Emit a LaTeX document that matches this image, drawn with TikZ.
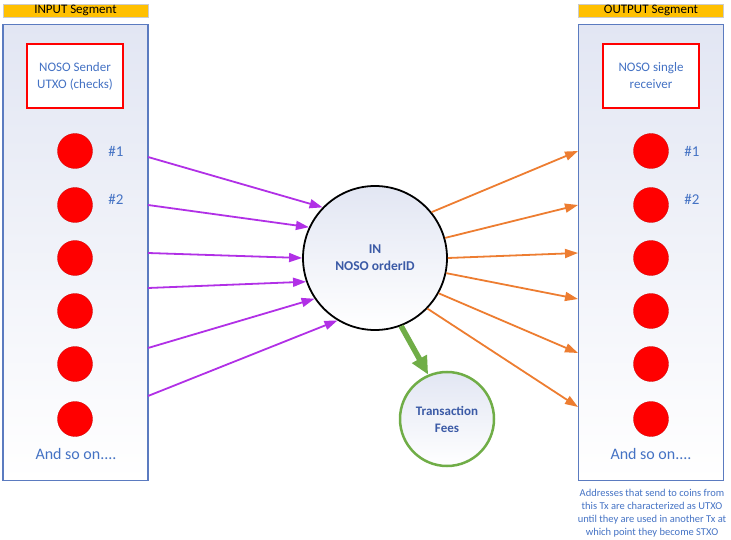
\documentclass[tikz,border=0pt]{standalone}
\usepackage{fontspec}
\setmainfont{Carlito}
\usetikzlibrary{arrows.meta}
\definecolor{segyellow}{HTML}{FFC000}
\definecolor{panelblue}{HTML}{5B7BC0}
\definecolor{panelfill}{HTML}{E2E6F3}
\definecolor{textblue}{HTML}{4472C4}
\definecolor{darkblue}{HTML}{3B5AA6}
\definecolor{arrowpurple}{HTML}{B130E6}
\definecolor{arroworange}{HTML}{ED7D31}
\definecolor{feesgreen}{HTML}{70AD47}
\definecolor{coinred}{HTML}{FF0000}

\tikzset{
  panel/.style={draw=panelblue, line width=1.8pt, top color=panelfill, bottom color=white, minimum width=145pt, minimum height=456pt, inner sep=0pt},
  segtitle/.style={draw=black!20, fill=segyellow, minimum width=145pt, minimum height=13pt, inner sep=0pt, font=\fontsize{13}{13}\selectfont},
  ownerbox/.style={rectangle, draw=coinred, line width=1.2pt, fill=white, minimum width=96pt, minimum height=64pt, align=center, text=textblue, font=\fontsize{13}{17}\selectfont},
  coin/.style={circle, fill=coinred, draw=coinred!80!black, line width=0.3pt, minimum size=35pt, inner sep=0pt},
  numlabel/.style={text=textblue, font=\fontsize{15}{15}\selectfont},
  moretext/.style={text=textblue, font=\fontsize{16}{16}\selectfont},
  inflow/.style={draw=arrowpurple, line width=1.8pt, -{Triangle[length=13pt,width=9pt]}},
  outflow/.style={draw=arroworange, line width=1.8pt, -{Triangle[length=13pt,width=9pt]}},
}

\begin{document}
\begin{tikzpicture}[x=1pt, y=-1pt]
  \useasboundingbox (0,0) rectangle (731,540);

  \node[panel] (inpanel) at (75.5,252.5) {};
  \node[panel] (outpanel) at (651,252.5) {};
  \node[segtitle] (intitle) at (75.5,10.5) {INPUT Segment};
  \node[segtitle] (outtitle) at (651,10.5) {OUTPUT Segment};
  \node[ownerbox] (sender) at (75,76) {NOSO Sender\\UTXO (checks)};
  \node[ownerbox] (receiver) at (651,76) {NOSO single\\receiver};

  \foreach \y [count=\i] in {151,205,258,311,364,419}{
    \node[coin] (incoin\i) at (75,\y) {};
    \node[coin] (outcoin\i) at (651,\y) {};
  }
  \node[numlabel] (inone) at (116,151) {\#1};
  \node[numlabel] (intwo) at (116,199) {\#2};
  \node[numlabel] (outone) at (692,151) {\#1};
  \node[numlabel] (outtwo) at (692,199) {\#2};
  \node[moretext] (inmore) at (76,454) {And so on....};
  \node[moretext] (outmore) at (651,454) {And so on....};

  \node[circle, draw=black, line width=1.8pt, top color=panelfill, bottom color=white, minimum size=144pt, align=center, text=darkblue, font=\bfseries\fontsize{13.5}{17}\selectfont] (order) at (375,258) {IN\\NOSO orderID};
  \node[circle, draw=feesgreen, line width=2.5pt, top color=panelfill, bottom color=white, minimum size=94pt, align=center, text=darkblue, font=\bfseries\fontsize{13}{17}\selectfont] (fees) at (447,419) {Transaction\\Fees};

  \foreach \y/\a [count=\i] in {157/136,205/155,253/180,288/199,348/214,396/239}{
    \coordinate (inpt\i) at (148,\y);
    \draw[inflow] (inpt\i) -- (order.\a);
  }
  \foreach \a/\y [count=\i] in {39/151,16/205,0/253,-12/299,-29/353,-44/407}{
    \coordinate (outpt\i) at (578,\y);
    \draw[outflow] (order.\a) -- (outpt\i);
  }
  \draw[feesgreen, line width=5.5pt, -{Triangle[length=18pt,width=16pt]}] (order.-69) -- (fees.113);

  \node[text=textblue, align=center, font=\fontsize{10.5}{13}\selectfont] (note) at (652,513) {Addresses that send to coins from\\this Tx are characterized as UTXO\\until they are used in another Tx at\\which point they become STXO};
\end{tikzpicture}
\end{document}
